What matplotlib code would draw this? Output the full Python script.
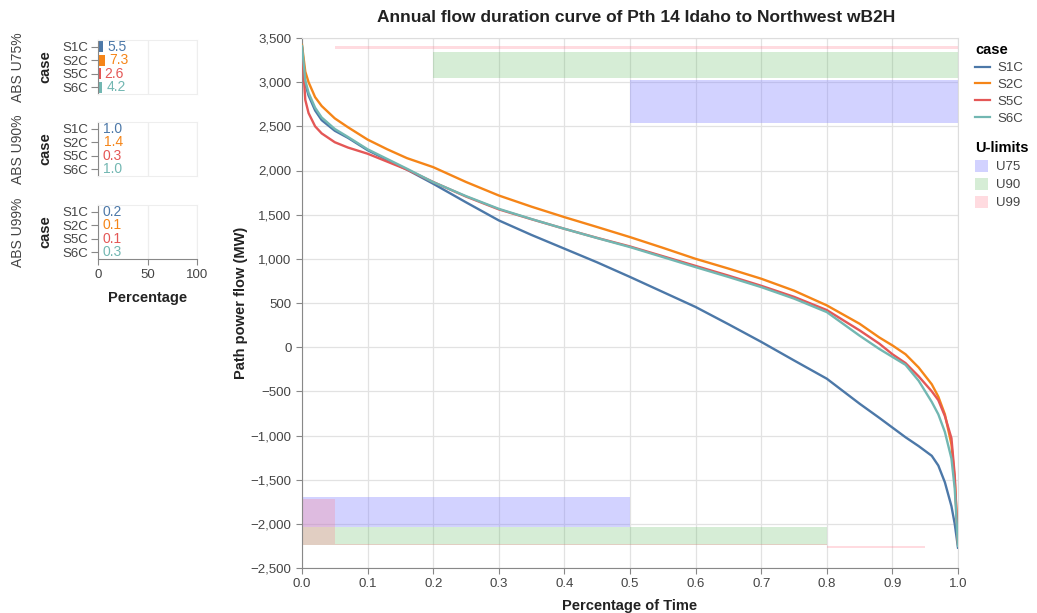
import matplotlib
matplotlib.use("Agg")
import matplotlib.pyplot as plt
from matplotlib.lines import Line2D
from matplotlib.patches import Patch
from matplotlib.ticker import FuncFormatter, MultipleLocator

plt.rcParams['font.family'] = ['Liberation Sans', 'DejaVu Sans']

# ---- data -------------------------------------------------------------
cases = ["S1C", "S2C", "S5C", "S6C"]
case_colors = ["#4c78a8", "#f58518", "#e45756", "#72b7b2"]

time_frac = [0.0, 0.005, 0.01, 0.02, 0.03, 0.05, 0.07, 0.1, 0.13, 0.16, 0.2,
             0.25, 0.3, 0.35, 0.4, 0.45, 0.5, 0.55, 0.6, 0.65, 0.7, 0.75,
             0.8, 0.85, 0.88, 0.9, 0.92, 0.94, 0.96, 0.97, 0.98, 0.99,
             0.995, 1.0]

flow_s1c = [3400, 2980, 2850, 2680, 2570, 2450, 2370, 2230, 2120, 2010, 1850,
            1640, 1435, 1270, 1115, 960, 795, 625, 455, 260, 60, -150,
            -357, -640, -800, -910, -1020, -1120, -1230, -1340, -1530, -1800,
            -2000, -2270]
flow_s2c = [3420, 3120, 3000, 2830, 2730, 2590, 2490, 2350, 2240, 2140, 2038,
            1870, 1717, 1590, 1472, 1360, 1246, 1125, 1000, 890, 775, 640,
            473, 265, 110, 20, -80, -230, -420, -560, -760, -1100,
            -1500, -2200]
flow_s5c = [3380, 2800, 2650, 2500, 2420, 2320, 2260, 2190, 2100, 2010, 1870,
            1705, 1560, 1448, 1340, 1237, 1140, 1030, 920, 810, 695, 570,
            420, 190, 40, -80, -180, -330, -500, -600, -780, -1030,
            -1450, -2230]
flow_s6c = [3410, 3020, 2880, 2710, 2600, 2470, 2380, 2240, 2130, 2020, 1868,
            1710, 1566, 1450, 1340, 1235, 1133, 1020, 906, 795, 680, 550,
            397, 130, -20, -110, -200, -380, -620, -760, -960, -1260,
            -1600, -2250]

# U-limit bands: (time start, time end, flow low, flow high)
u_names = ["U75", "U90", "U99"]
u_colors = ["#8080ff", "#5cb85c", "#ff8090"]
u_alpha = [0.35, 0.25, 0.28]
u75_bands = [(0.5, 1.0, 2540, 3030), (0.0, 0.5, -2035, -1700)]
u90_bands = [(0.2, 1.0, 3045, 3340), (0.0, 0.8, -2235, -2035)]
u99_bands = [(0.05, 1.0, 3375, 3405), (0.0, 0.05, -2235, -1720),
             (0.05, 0.8, -2245, -2225), (0.8, 0.95, -2272, -2255)]

# share of time outside each U-limit (%)
abs_u75 = [5.5, 7.3, 2.6, 4.2]
abs_u90 = [1.0, 1.4, 0.3, 1.0]
abs_u99 = [0.2, 0.1, 0.1, 0.3]

title = "Annual flow duration curve of Pth 14 Idaho to Northwest wB2H"

# ---- figure -----------------------------------------------------------
W, H = 1037, 613
fig = plt.figure(figsize=(W / 100, H / 100), dpi=100)
fig.patch.set_facecolor("white")


def fx(px):
    return px / W


def fy(px):
    return 1 - px / H


tick_col = "#444444"
dom_col = "#888888"
grid_col = "#e2e2e2"
lab_col = "#222222"

# main flow-duration axes
ax = fig.add_axes([fx(302), fy(568), fx(958) - fx(302), fy(38) - fy(568)])
ax.set_xlim(0, 1)
ax.set_ylim(-2500, 3500)
ax.set_axisbelow(True)
ax.grid(True, color=grid_col, lw=0.9)
ax.xaxis.set_major_locator(MultipleLocator(0.1))
ax.yaxis.set_major_locator(MultipleLocator(500))
ax.xaxis.set_major_formatter(FuncFormatter(lambda v, p: f"{v:.1f}"))
ax.yaxis.set_major_formatter(
    FuncFormatter(lambda v, p: f"{v:,.0f}".replace("-", "\u2212")))
ax.tick_params(colors=dom_col, labelcolor=tick_col, labelsize=9.5,
               length=4, width=0.8)
for side in ("left", "bottom"):
    ax.spines[side].set_color(dom_col)
for side in ("top", "right"):
    ax.spines[side].set_color("#dddddd")

for bands, col, al in zip([u75_bands, u90_bands, u99_bands], u_colors, u_alpha):
    for x0, x1, y0, y1 in bands:
        ax.bar(x0, y1 - y0, width=x1 - x0, bottom=y0, align="edge",
               color=col, alpha=al, linewidth=0, zorder=1)

for vals, col in zip([flow_s1c, flow_s2c, flow_s5c, flow_s6c], case_colors):
    ax.plot(time_frac, vals, color=col, lw=1.7, zorder=3)

ax.set_xlabel("Percentage of Time", fontsize=10.5, fontweight="bold",
              color=lab_col, labelpad=6)
ax.set_ylabel("Path power flow (MW)", fontsize=10.5, fontweight="bold",
              color=lab_col, labelpad=2)
fig.text(fx(636), fy(18), title, ha="center", va="center", fontsize=12.5,
         fontweight="bold", color=lab_col)

# legends
case_handles = [Line2D([], [], color=c, lw=1.6) for c in case_colors]
leg1 = fig.legend(case_handles, cases, title="case", loc="upper left",
                  bbox_to_anchor=(fx(970), fy(38)), frameon=False,
                  fontsize=9.5, handlelength=1.1, handletextpad=0.6,
                  labelspacing=0.35, alignment="left", borderaxespad=0,
                  title_fontproperties={"weight": "bold", "size": 10.5})
for t in leg1.get_texts():
    t.set_color(tick_col)
u_handles = [Patch(facecolor=c, alpha=a, edgecolor="none")
             for c, a in zip(u_colors, u_alpha)]
leg2 = fig.legend(u_handles, u_names, title="U-limits", loc="upper left",
                  bbox_to_anchor=(fx(970), fy(136)), frameon=False,
                  fontsize=9.5, handlelength=1.0, handleheight=1.0,
                  handletextpad=0.6, labelspacing=0.35, alignment="left",
                  borderaxespad=0,
                  title_fontproperties={"weight": "bold", "size": 10.5})
for t in leg2.get_texts():
    t.set_color(tick_col)

# small bar panels
panel_tops = [40, 122, 205]
panel_vals = [abs_u75, abs_u90, abs_u99]
panel_titles = ["ABS U75%", "ABS U90%", "ABS U99%"]
for i, (top, vals, ttl) in enumerate(zip(panel_tops, panel_vals, panel_titles)):
    bx = fig.add_axes([fx(98), fy(top + 54), fx(197) - fx(98), fy(top) - fy(top + 54)])
    ypos = list(range(len(cases)))
    bx.barh(ypos, vals, height=0.8, color=case_colors, zorder=2)
    for y, v, c in zip(ypos, vals, case_colors):
        bx.annotate(f"{v:.1f}", (v, y), xytext=(3, 0), textcoords="offset points",
                    ha="left", va="center", fontsize=10, color=c, zorder=3)
    bx.set_xlim(0, 100)
    bx.set_ylim(len(cases) - 0.5, -0.5)
    bx.set_yticks(ypos)
    bx.set_yticklabels(cases)
    bx.set_xticks([0, 50, 100])
    bx.set_axisbelow(True)
    bx.grid(True, axis="x", color="#eeeeee", lw=0.9)
    bx.tick_params(axis="y", colors=dom_col, labelcolor=tick_col, labelsize=9.5,
                   length=5, width=0.8, pad=2)
    bx.tick_params(axis="x", colors=dom_col, labelcolor=tick_col, labelsize=9.5,
                   length=4, width=0.8)
    bx.spines["left"].set_color(dom_col)
    for side in ("top", "right", "bottom"):
        bx.spines[side].set_color("#eeeeee")
    if i < 2:
        bx.tick_params(axis="x", length=0, labelbottom=False)
    else:
        bx.spines["bottom"].set_color(dom_col)
        bx.set_xlabel("Percentage", fontsize=10.5, fontweight="bold",
                      color=lab_col, labelpad=7)
    bx.set_ylabel("case", fontsize=10.5, fontweight="bold", color=lab_col,
                  labelpad=7)
    fig.text(fx(18), fy(top + 27), ttl, rotation=90, ha="center", va="center",
             fontsize=10, color=tick_col)

fig.savefig("out.png", dpi=100, facecolor="white")
